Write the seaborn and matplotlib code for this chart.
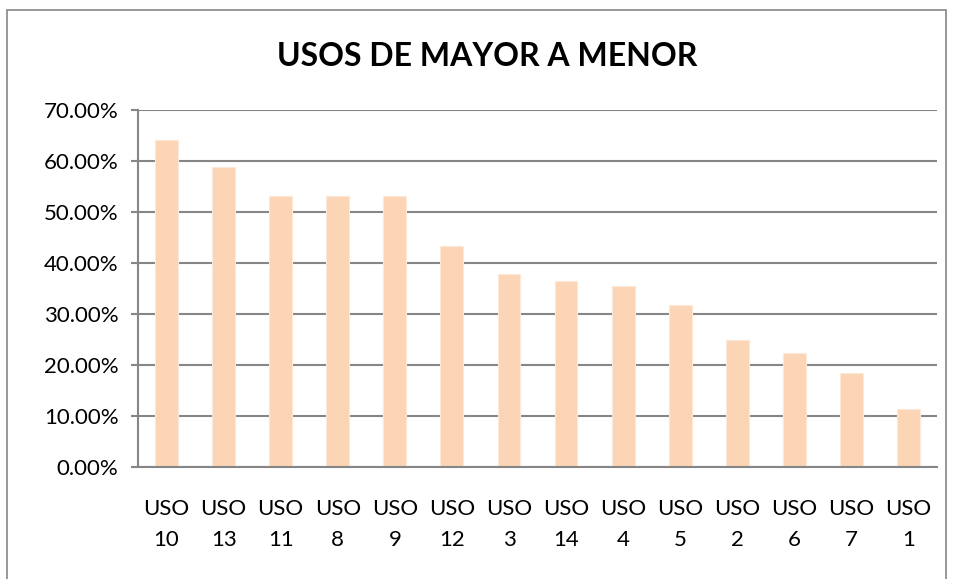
import matplotlib
matplotlib.use("Agg")
import matplotlib.pyplot as plt
import seaborn as sns
import pandas as pd
from matplotlib.patches import Rectangle
from matplotlib.ticker import FuncFormatter

categories = ["USO\n10", "USO\n13", "USO\n11", "USO\n8", "USO\n9", "USO\n12", "USO\n3",
              "USO\n14", "USO\n4", "USO\n5", "USO\n2", "USO\n6", "USO\n7", "USO\n1"]
values = [0.641, 0.588, 0.532, 0.532, 0.531, 0.433, 0.379, 0.364, 0.354, 0.317,
          0.250, 0.224, 0.184, 0.114]
yticks = [0.0, 0.1, 0.2, 0.3, 0.4, 0.5, 0.6, 0.7]
title = "USOS DE MAYOR A MENOR"

sns.set_theme(style="white")
plt.rcParams['font.family'] = ['Lato', 'DejaVu Sans']

fig = plt.figure(figsize=(9.54, 5.79), dpi=100)
ax = fig.add_axes([138/954, 1 - 467/579, (937-138)/954, (467-110)/579])

df = pd.DataFrame({"cat": categories, "val": values})
sns.barplot(data=df, x="cat", y="val", ax=ax, color="#FBD5B5", saturation=1,
            width=0.4, edgecolor="#FDE9D9", linewidth=0.8)

ax.set_ylim(0, 0.70)
ax.set_xlim(-0.5, len(categories) - 0.5)
ax.set_yticks(yticks)
ax.yaxis.set_major_formatter(FuncFormatter(lambda v, p: f"{v*100:.2f}%"))
ax.set_xlabel("")
ax.set_ylabel("")
for y in yticks:
    ax.axhline(y, color="#868686", linewidth=1.5, zorder=0)
ax.set_axisbelow(True)
for s in ["top", "right"]:
    ax.spines[s].set_visible(False)
ax.spines["left"].set_color("#868686")
ax.spines["left"].set_linewidth(1.5)
ax.spines["bottom"].set_color("#868686")
ax.spines["bottom"].set_linewidth(1.5)
ax.tick_params(axis="y", which="major", left=True, length=5, width=1.5, color="#868686",
               labelsize=16, pad=9, labelcolor="black")
ax.tick_params(axis="x", bottom=False, labelsize=16, pad=17, labelcolor="black")
for lab in ax.get_xticklabels():
    lab.set_linespacing(1.7)

fig.text(487/954, 1 - 56/579, title, ha="center", va="center", fontsize=23,
         fontweight="bold", color="black")

fig.patches.append(Rectangle((7/954, -0.05), (946-7)/954, 1.05 - 10/579,
                             transform=fig.transFigure, fill=False, edgecolor="#868686",
                             linewidth=1.2))

fig.savefig("out.png", dpi=100)
